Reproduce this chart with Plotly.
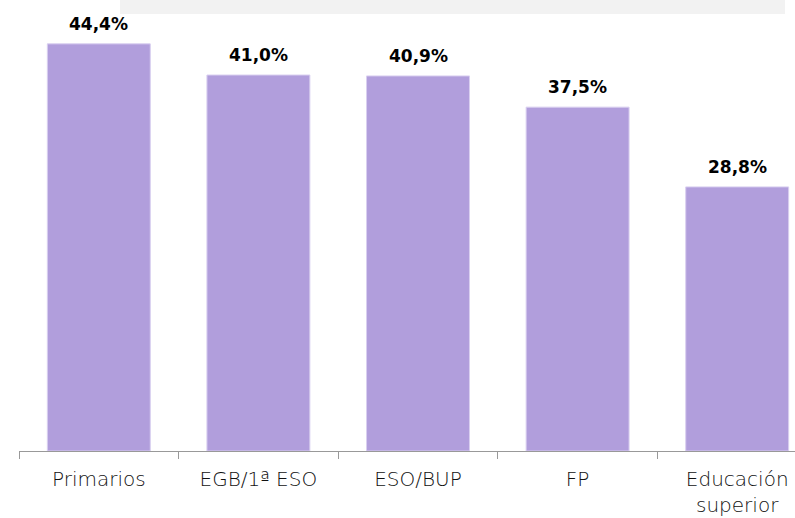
import plotly.graph_objects as go

categories = ["Primarios", "EGB/1ª ESO", "ESO/BUP", "FP", "Educación<br>superior"]
values = [44.4, 41.0, 40.9, 37.5, 28.8]
labels = ["44,4%", "41,0%", "40,9%", "37,5%", "28,8%"]

W, H = 795, 518
L, R, T, B = 19, 0, 14, 67
pw = W - L - R
ph = H - T - B
cat_px = 159.6

fig = go.Figure()
fig.add_trace(go.Bar(
    x=categories, y=values,
    marker=dict(color="#B19EDC", line=dict(color="#D9CFF0", width=1)),
    width=0.645, hoverinfo="skip",
))

for c, v, t in zip(categories, values, labels):
    fig.add_annotation(x=c, y=v, text="<b>" + t + "</b>", showarrow=False,
                       yanchor="bottom", yshift=8,
                       font=dict(family="DejaVu Sans", size=17, color="#000"))

fig.add_shape(type="rect", xref="paper", yref="paper",
              x0=(120 - L) / pw, x1=(785 - L) / pw, y0=1.0, y1=1 + T / ph,
              fillcolor="#F2F2F2", line=dict(width=0), layer="below")

fig.update_layout(
    width=W, height=H,
    margin=dict(l=L, r=R, t=T, b=B),
    paper_bgcolor="white", plot_bgcolor="white",
    showlegend=False,
    xaxis=dict(
        type="category", range=[-0.5, -0.5 + pw / cat_px],
        tickson="boundaries", ticks="outside", ticklen=7, tickcolor="#999",
        showline=True, linecolor="#999", linewidth=1, showgrid=False,
        tickfont=dict(family="DejaVu Sans", size=20, color="#111", weight=300),
        ticklabelstandoff=10,
        automargin=False,
    ),
    yaxis=dict(range=[0, ph / 9.17], visible=False, showgrid=False),
)

fig.write_html("out.html", config={"displayModeBar": False},
               post_script="document.body.style.margin='0';")
